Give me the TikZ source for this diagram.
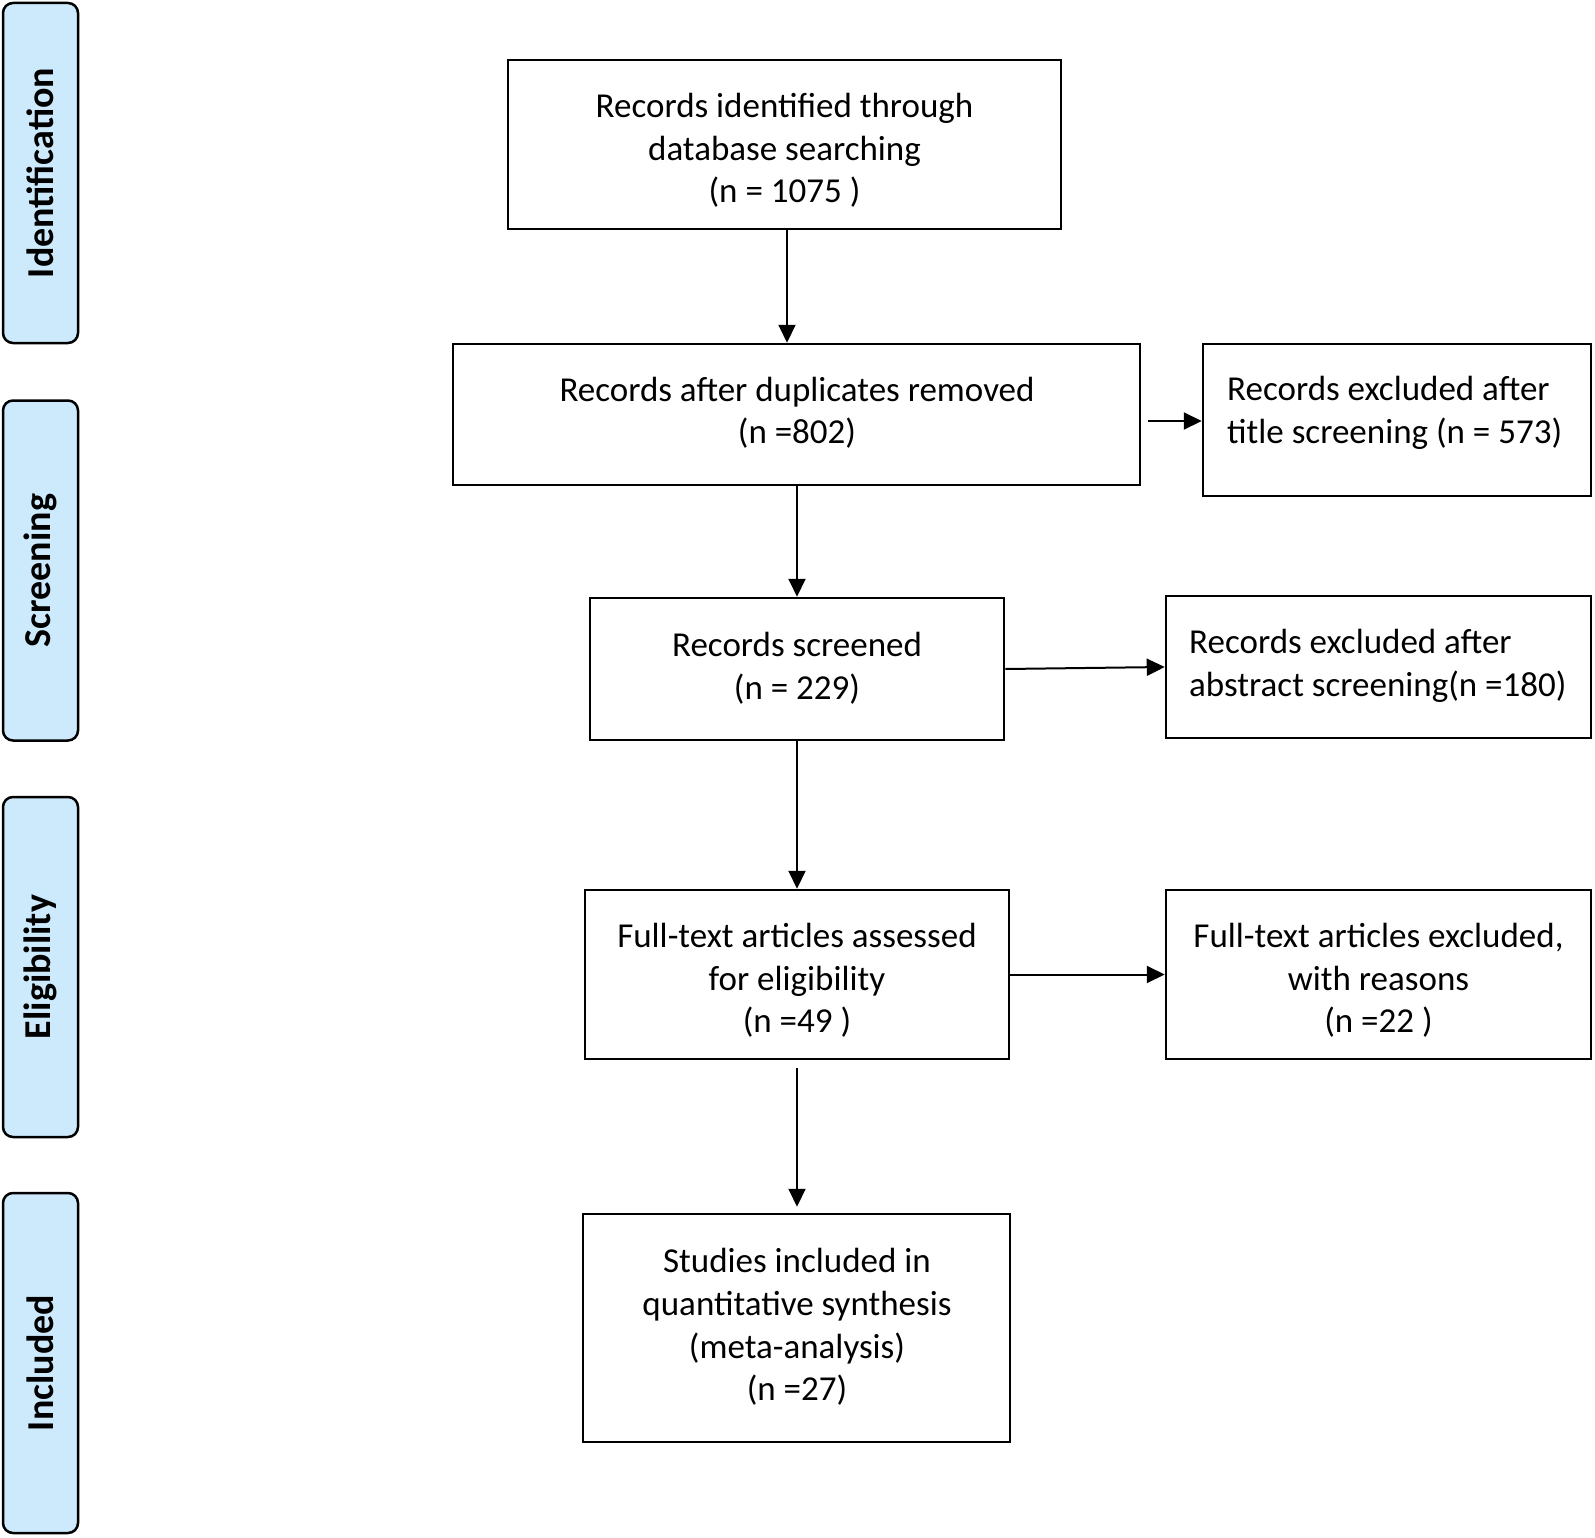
\documentclass[tikz,border=0pt]{standalone}
\usepackage{fontspec}
\setmainfont{Carlito}
\usetikzlibrary{arrows.meta}
\definecolor{sidefill}{RGB}{204,234,252}
\begin{document}
\begin{tikzpicture}[x=1pt,y=-1pt,
  box/.style={draw=black,line width=2.5pt,inner sep=0pt},
  txt/.style={font=\fontsize{35}{42.7}\selectfont,inner sep=0pt},
  side/.style={draw=black,line width=2.5pt,fill=sidefill,rounded corners=10pt,rotate=90,
    minimum width=340pt,minimum height=75pt,inner sep=0pt,font=\fontsize{38}{44}\selectfont\bfseries},
  arr/.style={line width=2pt,-{Triangle[length=18pt,width=17pt]}}]
\useasboundingbox (0,0) rectangle (1595,1538);
% side labels
\node[side] (s1) at (40.5,173) {Identification};
\node[side] (s2) at (40.5,570.5) {Screening};
\node[side] (s3) at (40.5,967) {Eligibility};
\node[side] (s4) at (40.5,1363) {Included};
% boxes
\node[box,minimum width=553pt,minimum height=169pt] (b1) at (784.5,144.5) {};
\node[box,minimum width=687pt,minimum height=141pt] (b2) at (796.5,414.5) {};
\node[box,minimum width=388pt,minimum height=152pt] (b3) at (1397,420) {};
\node[box,minimum width=414pt,minimum height=142pt] (b4) at (797,669) {};
\node[box,minimum width=425pt,minimum height=142pt] (b5) at (1378.5,667) {};
\node[box,minimum width=424pt,minimum height=169pt] (b6) at (797,974.5) {};
\node[box,minimum width=425pt,minimum height=169pt] (b7) at (1378.5,974.5) {};
\node[box,minimum width=427pt,minimum height=228pt] (b8) at (796.5,1328) {};
% texts
\node[txt,align=center] (t1) at (784.5,150.5) {Records identified through\\database searching\\(n = 1075 )};
\node[txt,align=center] (t2) at (797,412.75) {Records after duplicates removed\\(n =802)};
\node[txt,align=left,anchor=west] (t3) at (1227,412.75) {Records excluded after\\title screening (n = 573)};
\node[txt,align=center] (t4) at (797,668) {Records screened\\(n = 229)};
\node[txt,align=left,anchor=west] (t5) at (1189,666) {Records excluded after\\abstract screening(n =180)};
\node[txt,align=center] (t6) at (797,980.5) {Full-text articles assessed\\for eligibility\\(n =49 )};
\node[txt,align=center] (t7) at (1378.5,980.5) {Full-text articles excluded,\\with reasons\\(n =22 )};
\node[txt,align=center] (t8) at (797,1327) {Studies included in\\quantitative synthesis\\(meta-analysis)\\(n =27)};
% arrows
\draw[arr] (787,0 |- b1.south) -- (787,0 |- b2.north);
\draw[arr] (797,0 |- b2.south) -- (797,0 |- b4.north);
\draw[arr] (797,0 |- b4.south) -- (797,0 |- b6.north);
\draw[arr,shorten <=8pt,shorten >=6pt] (797,0 |- b6.south) -- (797,0 |- b8.north);
\draw[arr,shorten <=7pt] (b2.east |- 0,421) -- (b3.west |- 0,421);
\draw[arr] (b4.east) -- (b5.west);
\draw[arr] (b6.east) -- (b7.west);
\end{tikzpicture}
\end{document}
